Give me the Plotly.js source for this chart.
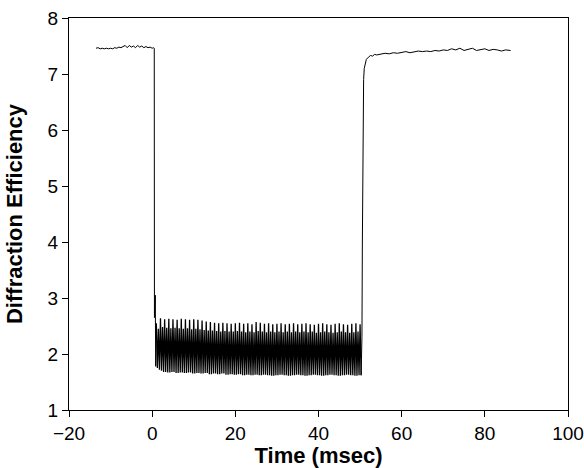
<!DOCTYPE html>
<html>
<head>
<meta charset="utf-8">
<script src="https://cdn.plot.ly/plotly-3.0.1.min.js"></script>
<style>html,body{margin:0;padding:0;background:#fff;}#chart{width:584px;height:468px;}</style>
</head>
<body>
<div id="chart"></div>
<script>
// Baseline before switching (msec, diffraction efficiency)
const preTime = [-13.5,-13,-12.5,-12,-11.5,-11,-10.5,-10,-9.5,-9,-8.5,-8,-7.5,-7,-6.5,-6,-5.5,-5,-4.5,-4,-3.5,-3,-2.5,-2,-1.5,-1,-0.5,0,0.3,0.5];
const preValue = [7.46,7.47,7.45,7.46,7.45,7.46,7.45,7.46,7.45,7.47,7.46,7.48,7.47,7.49,7.51,7.47,7.51,7.48,7.50,7.47,7.51,7.48,7.50,7.47,7.49,7.47,7.48,7.46,7.47,7.46];

// Switching transient
const dropTime = [0.5,0.55,0.75,0.85,0.95];
const dropValue = [7.46,2.65,3.05,1.78,2.3];

// Oscillating low state
const oscTime = [
1,1.25,1.5,1.75, 2,2.25,2.5,2.75, 3,3.25,3.5,3.75, 4,4.25,4.5,4.75, 5,5.25,5.5,5.75,
6,6.25,6.5,6.75, 7,7.25,7.5,7.75, 8,8.25,8.5,8.75, 9,9.25,9.5,9.75, 10,10.25,10.5,10.75,
11,11.25,11.5,11.75, 12,12.25,12.5,12.75, 13,13.25,13.5,13.75, 14,14.25,14.5,14.75, 15,15.25,15.5,15.75,
16,16.25,16.5,16.75, 17,17.25,17.5,17.75, 18,18.25,18.5,18.75, 19,19.25,19.5,19.75, 20,20.25,20.5,20.75,
21,21.25,21.5,21.75, 22,22.25,22.5,22.75, 23,23.25,23.5,23.75, 24,24.25,24.5,24.75, 25,25.25,25.5,25.75,
26,26.25,26.5,26.75, 27,27.25,27.5,27.75, 28,28.25,28.5,28.75, 29,29.25,29.5,29.75, 30,30.25,30.5,30.75,
31,31.25,31.5,31.75, 32,32.25,32.5,32.75, 33,33.25,33.5,33.75, 34,34.25,34.5,34.75, 35,35.25,35.5,35.75,
36,36.25,36.5,36.75, 37,37.25,37.5,37.75, 38,38.25,38.5,38.75, 39,39.25,39.5,39.75, 40,40.25,40.5,40.75,
41,41.25,41.5,41.75, 42,42.25,42.5,42.75, 43,43.25,43.5,43.75, 44,44.25,44.5,44.75, 45,45.25,45.5,45.75,
46,46.25,46.5,46.75, 47,47.25,47.5,47.75, 48,48.25,48.5,48.75, 49,49.25,49.5,49.75, 50,50.25
];
const oscValue = [
2.55,1.75,2.45,1.72, 2.64,1.70,2.48,1.68, 2.62,1.68,2.47,1.67, 2.63,1.67,2.46,1.68, 2.62,1.68,2.47,1.66,
2.61,1.66,2.46,1.67, 2.63,1.67,2.45,1.66, 2.62,1.66,2.46,1.67, 2.61,1.67,2.44,1.65, 2.62,1.65,2.45,1.66,
2.61,1.66,2.44,1.65, 2.60,1.65,2.43,1.66, 2.58,1.66,2.42,1.64, 2.57,1.64,2.42,1.65, 2.56,1.65,2.41,1.64,
2.55,1.64,2.40,1.65, 2.56,1.65,2.41,1.63, 2.55,1.63,2.40,1.64, 2.54,1.64,2.40,1.63, 2.55,1.63,2.41,1.64,
2.56,1.64,2.40,1.62, 2.54,1.62,2.39,1.63, 2.55,1.63,2.40,1.62, 2.53,1.62,2.39,1.63, 2.57,1.63,2.41,1.62,
2.56,1.62,2.40,1.63, 2.54,1.63,2.39,1.62, 2.55,1.62,2.40,1.61, 2.53,1.61,2.39,1.62, 2.54,1.62,2.40,1.63,
2.55,1.63,2.39,1.62, 2.53,1.62,2.40,1.61, 2.54,1.61,2.39,1.62, 2.55,1.62,2.40,1.63, 2.53,1.63,2.39,1.62,
2.54,1.62,2.40,1.61, 2.55,1.61,2.39,1.62, 2.53,1.62,2.40,1.63, 2.52,1.63,2.38,1.62, 2.54,1.62,2.39,1.61,
2.55,1.61,2.40,1.62, 2.53,1.62,2.39,1.63, 2.52,1.63,2.38,1.62, 2.54,1.62,2.39,1.61, 2.55,1.61,2.40,1.62,
2.53,1.62,2.39,1.63, 2.52,1.63,2.38,1.62, 2.54,1.62,2.39,1.61, 2.55,1.61,2.40,1.62, 2.53,1.62
];

// Recovery after switching off
const recTime = [50.25,50.45,50.55,50.65,50.75,50.85,51,51.2,51.5,52,52.5,53,53.5,54,55,56,57,58,59,60,61,62,63,64,65,66,67,68,69,70,71,72,73,74,75,76,77,78,79,80,81,82,83,84,85,86.2];
const recValue = [1.62,2.3,4.0,5.5,6.4,6.9,7.1,7.2,7.26,7.30,7.33,7.32,7.35,7.34,7.35,7.37,7.36,7.38,7.37,7.39,7.40,7.38,7.40,7.41,7.40,7.41,7.40,7.42,7.41,7.43,7.42,7.45,7.43,7.46,7.42,7.44,7.46,7.42,7.44,7.45,7.42,7.44,7.43,7.41,7.43,7.42];

const xTicks = [-20,0,20,40,60,80,100];
const yTicks = [1,2,3,4,5,6,7,8];

const font = "Liberation Sans, Arial, sans-serif";
const axisBase = {
  showline: true, linecolor: '#000', linewidth: 1, mirror: true,
  showgrid: false, zeroline: false,
  ticks: 'outside', ticklen: 6, tickcolor: '#000', tickwidth: 1,
  tickfont: {family: font, size: 19, color: '#000'},
  ticklabeloverflow: 'allow'
};

const lineStyle = {color: '#000', width: 1};

Plotly.newPlot('chart', [
  {x: preTime.concat(dropTime), y: preValue.concat(dropValue), type: 'scatter', mode: 'lines', line: lineStyle, hoverinfo: 'skip'},
  {x: [dropTime[dropTime.length - 1]].concat(oscTime), y: [dropValue[dropValue.length - 1]].concat(oscValue), type: 'scatter', mode: 'lines', line: {color: '#000', width: 1.3}, hoverinfo: 'skip'},
  {x: recTime, y: recValue, type: 'scatter', mode: 'lines', line: lineStyle, hoverinfo: 'skip'}
], {
  width: 584, height: 468,
  margin: {l: 69, r: 16, t: 18, b: 58},
  paper_bgcolor: '#fff', plot_bgcolor: '#fff',
  showlegend: false,
  xaxis: Object.assign({}, axisBase, {
    range: [-20, 100], tickvals: xTicks,
    title: {text: '<b>Time (msec)</b>', font: {family: font, size: 22, color: '#000'}, standoff: 5}
  }),
  yaxis: Object.assign({}, axisBase, {
    range: [1, 8], tickvals: yTicks,
    title: {text: '<b>Diffraction Efficiency</b>', font: {family: font, size: 22, color: '#000'}, standoff: 18}
  })
}, {displayModeBar: false, staticPlot: true});
</script>
</body>
</html>
